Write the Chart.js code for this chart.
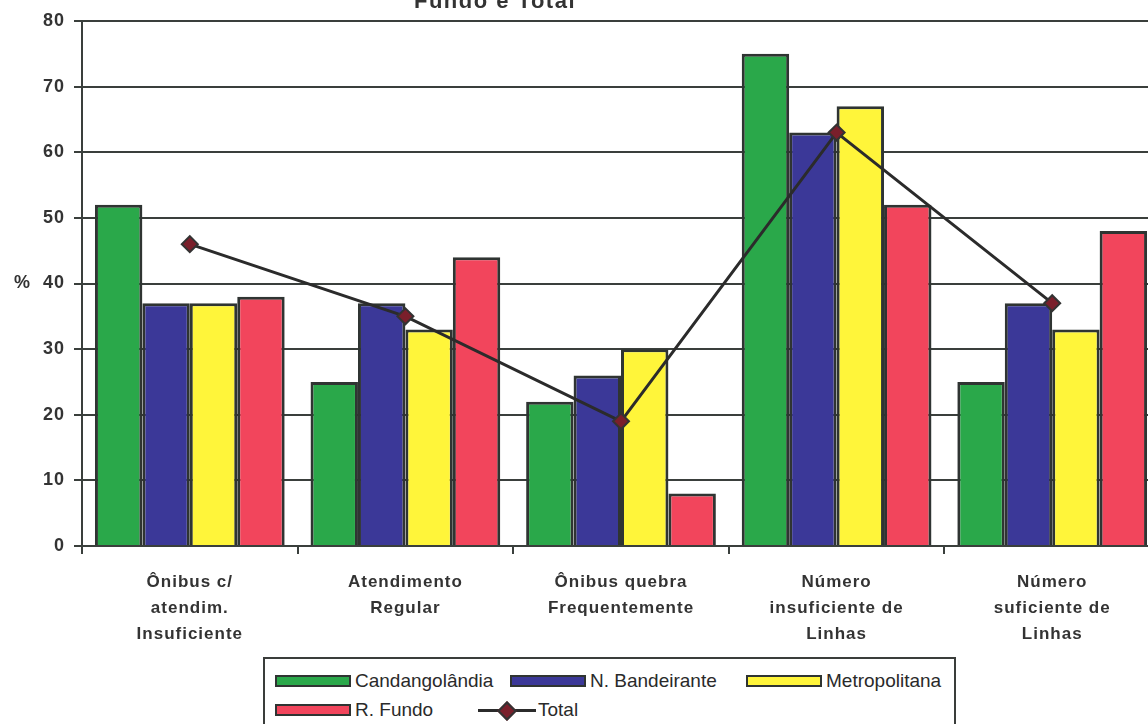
<!DOCTYPE html>
<html>
<head>
<meta charset="utf-8">
<script src="https://cdn.jsdelivr.net/npm/chart.js@4/dist/chart.umd.min.js"></script>
<style>
  html, body { margin: 0; padding: 0; background: #fff; overflow: hidden; width: 1148px; height: 724px; }
  #wrap { position: absolute; left: 0; top: 0; width: 1170px; height: 724px; }
  #title { position: absolute; left: 0; top: -12px; width: 990px; text-align: center;
           font: bold 22px "Liberation Sans", Arial, sans-serif; color: #333; letter-spacing: 1.5px; }
  #legend { position: absolute; left: 263px; top: 657px; width: 693px; height: 90px;
            border: 2px solid #3a3d3b; background: #fff; box-sizing: border-box; }
  .item { position: absolute; display: flex; align-items: center; height: 24px;
          font: 19px "Liberation Sans", Arial, sans-serif; color: #2a2a2a; white-space: nowrap; }
  .swatch { width: 76px; height: 12px; box-sizing: border-box; border: 2px solid #2f3432; margin-right: 4px; }
  .lineKey { position: relative; width: 58px; height: 20px; margin-right: 2px; }
  .lineKey .bar { position: absolute; left: 0; right: 0; top: 9px; height: 3px; background: #2b2b2b; }
  .lineKey .dia { position: absolute; left: 22px; top: 4px; width: 10px; height: 10px; transform: rotate(45deg);
                  background: #7a1f2b; border: 2px solid #333; }
</style>
</head>
<body>
<div id="wrap">
  <canvas id="c" width="1170" height="724"></canvas>
  <div id="title">Fundo e Total</div>
  <div id="legend"></div>
</div>
<script>
// Categories (multi-line axis labels)
const categories = [
  ['Ônibus c/', 'atendim.', 'Insuficiente'],
  ['Atendimento', 'Regular'],
  ['Ônibus quebra', 'Frequentemente'],
  ['Número', 'insuficiente de', 'Linhas'],
  ['Número', 'suficiente de', 'Linhas']
];

// Percentages per region
const candangolandia = [52, 25, 22, 75, 25];
const nBandeirante   = [37, 37, 26, 63, 37];
const metropolitana  = [37, 33, 30, 67, 33];
const rFundo         = [38, 44, 8, 52, 48];
const total          = [46, 35, 19, 63, 37];

// Y axis range and step
const yMin = 0;
const yMax = 80;
const yStep = 10;

const FONT = '"Liberation Sans", Arial, sans-serif';
const INK = '#333';
const GRID = '#3a3f3c';
const EDGE = '#2f3432';

const barDataset = (label, data, color) => ({
  type: 'bar', label, data,
  backgroundColor: color, borderColor: EDGE, borderWidth: 3,
  categoryPercentage: 0.88, barPercentage: 1.0, order: 1
});

const datasets = [
  barDataset('Candangolândia', candangolandia, '#2aa84a'),
  barDataset('N. Bandeirante', nBandeirante, '#3b3898'),
  barDataset('Metropolitana', metropolitana, '#fff53a'),
  barDataset('R. Fundo', rFundo, '#f2455c'),
  {
    type: 'line', label: 'Total', data: total,
    borderColor: '#2b2b2b', borderWidth: 3, tension: 0, fill: false,
    pointStyle: 'rectRot', pointRadius: 8, pointHoverRadius: 8,
    pointBackgroundColor: '#7a1f2b', pointBorderColor: '#333', pointBorderWidth: 2,
    order: 0
  }
];

// Slight tracking on canvas text, like the printed labels
const textSpacing = {
  id: 'textSpacing',
  beforeLayout(chart) { chart.ctx.letterSpacing = '1px'; },
  beforeDraw(chart) { chart.ctx.letterSpacing = '1px'; }
};

const chart = new Chart(document.getElementById('c'), {
  data: { labels: categories, datasets },
  plugins: [textSpacing],
  options: {
    responsive: false,
    animation: false,
    devicePixelRatio: 1,
    layout: { padding: { top: 21, left: 0, right: 10, bottom: 0 } },
    plugins: { legend: { display: false }, title: { display: false }, tooltip: { enabled: false } },
    scales: {
      x: {
        offset: true,
        ticks: {
          color: INK, maxRotation: 0, autoSkip: false, padding: 15,
          font: { family: FONT, size: 17, weight: 'bold', lineHeight: 1.53 }
        },
        grid: { display: true, drawOnChartArea: false, offset: true, tickLength: 8, color: GRID, lineWidth: 2 },
        border: { display: true, color: GRID, width: 2 },
        afterFit(s) { s.height = 178; }
      },
      y: {
        min: yMin, max: yMax,
        ticks: {
          stepSize: yStep, color: INK, padding: 9,
          font: { family: FONT, size: 18, weight: 'bold' },
          callback: v => (v === 40 ? '%  40' : String(v))
        },
        grid: { color: GRID, lineWidth: 2, tickLength: 8 },
        border: { display: true, color: GRID, width: 2 },
        afterFit(s) { s.width = 82; }
      }
    }
  }
});

// HTML legend built from the chart's datasets, laid out in three columns
const legendSpots = [
  { left: 10, top: 10 }, { left: 245, top: 10 }, { left: 481, top: 10 },
  { left: 10, top: 39 }, { left: 213, top: 39 }
];
const legendEl = document.getElementById('legend');
chart.data.datasets.forEach((ds, i) => {
  const item = document.createElement('div');
  item.className = 'item';
  item.style.left = legendSpots[i].left + 'px';
  item.style.top = legendSpots[i].top + 'px';
  if (ds.type === 'line') {
    const key = document.createElement('div');
    key.className = 'lineKey';
    key.innerHTML = '<div class="bar"></div><div class="dia"></div>';
    item.appendChild(key);
  } else {
    const sw = document.createElement('div');
    sw.className = 'swatch';
    sw.style.background = ds.backgroundColor;
    item.appendChild(sw);
  }
  const txt = document.createElement('span');
  txt.textContent = ds.label;
  item.appendChild(txt);
  legendEl.appendChild(item);
});
</script>
</body>
</html>
